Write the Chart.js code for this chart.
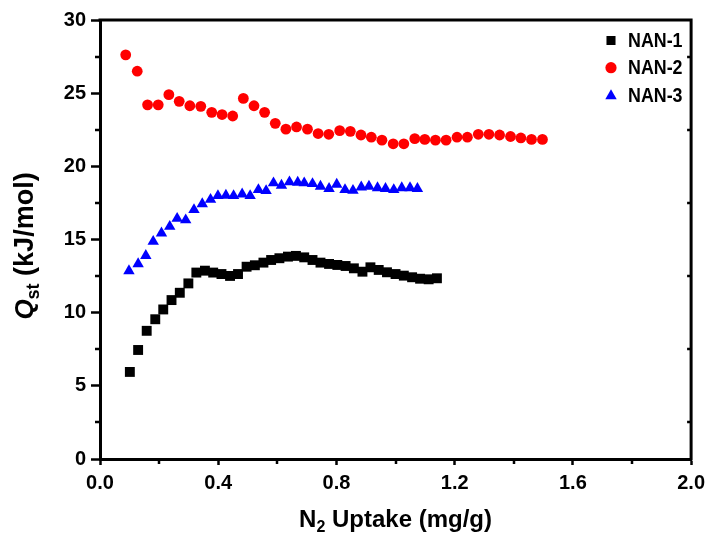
<!DOCTYPE html>
<html>
<head>
<meta charset="utf-8">
<script src="https://cdn.jsdelivr.net/npm/chart.js@4/dist/chart.umd.min.js"></script>
<style>
  html, body { margin: 0; padding: 0; background: #ffffff; }
  #wrap { width: 711px; height: 539px; }
</style>
</head>
<body>
<div id="wrap"><canvas id="c" width="711" height="539"></canvas></div>
<script>
// N2 uptake (mg/g) and isosteric heat Qst (kJ/mol) for each sample
const nan1X = [0.101, 0.129, 0.158, 0.187, 0.214, 0.242, 0.270, 0.299, 0.326, 0.355,
               0.383, 0.411, 0.440, 0.467, 0.496, 0.524, 0.553, 0.579, 0.607, 0.636,
               0.663, 0.691, 0.719, 0.746, 0.775, 0.803, 0.831, 0.859, 0.888, 0.915,
               0.943, 0.971, 1.000, 1.028, 1.056, 1.083, 1.112, 1.140];
const nan1Y = [5.95, 7.45, 8.76, 9.55, 10.22, 10.86, 11.36, 12.00, 12.74, 12.87,
               12.74, 12.64, 12.51, 12.64, 13.14, 13.24, 13.42, 13.60, 13.72, 13.83,
               13.88, 13.78, 13.60, 13.42, 13.33, 13.26, 13.19, 13.03, 12.80, 13.10,
               12.92, 12.76, 12.64, 12.53, 12.42, 12.32, 12.28, 12.35];

const nan2X = [0.087, 0.126, 0.161, 0.197, 0.233, 0.268, 0.304, 0.341, 0.378, 0.413,
               0.449, 0.485, 0.521, 0.557, 0.593, 0.629, 0.665, 0.702, 0.738, 0.774,
               0.811, 0.847, 0.883, 0.918, 0.954, 0.992, 1.028, 1.065, 1.099, 1.135,
               1.171, 1.208, 1.243, 1.280, 1.316, 1.352, 1.389, 1.424, 1.460, 1.497];
const nan2Y = [27.62, 26.50, 24.20, 24.20, 24.90, 24.44, 24.14, 24.10, 23.69, 23.54,
               23.44, 24.64, 24.14, 23.69, 22.94, 22.54, 22.69, 22.54, 22.24, 22.19,
               22.44, 22.39, 22.14, 21.99, 21.79, 21.54, 21.54, 21.89, 21.84, 21.79,
               21.79, 21.99, 21.99, 22.19, 22.19, 22.14, 22.04, 21.94, 21.84, 21.84];

const nan3X = [0.098, 0.129, 0.155, 0.180, 0.208, 0.236, 0.261, 0.290, 0.318, 0.346,
               0.374, 0.399, 0.426, 0.452, 0.481, 0.508, 0.536, 0.562, 0.587, 0.614,
               0.641, 0.669, 0.691, 0.719, 0.746, 0.775, 0.801, 0.829, 0.856, 0.884,
               0.910, 0.939, 0.966, 0.994, 1.021, 1.049, 1.074];
const nan3Y = [12.85, 13.33, 13.90, 14.86, 15.43, 15.89, 16.43, 16.33, 17.03, 17.43,
               17.73, 17.99, 18.01, 17.99, 18.10, 17.99, 18.40, 18.33, 18.86, 18.70,
               18.93, 18.90, 18.86, 18.81, 18.63, 18.47, 18.77, 18.40, 18.35, 18.58,
               18.63, 18.53, 18.47, 18.40, 18.53, 18.53, 18.47];

const seriesNames = ['NAN-1', 'NAN-2', 'NAN-3'];
const xTicks = [0, 0.4, 0.8, 1.2, 1.6, 2.0];
const yTicks = [0, 5, 10, 15, 20, 25, 30];
const xMinorTicks = [0.2, 0.6, 1.0, 1.4, 1.8];
const yMinorTicks = [2.5, 7.5, 12.5, 17.5, 22.5, 27.5];

const toPoints = (xs, ys) => xs.map((x, i) => ({ x: x, y: ys[i] }));

const fam = "'Liberation Sans', Arial, sans-serif";
const tickFont = { family: fam, size: 20, weight: 'bold' };

// Frame, minor ticks, axis titles and legend
const decorations = {
  id: 'decorations',
  afterDraw(chart) {
    const ctx = chart.ctx;
    const a = chart.chartArea;
    const xs = chart.scales.x, ys = chart.scales.y;
    ctx.save();
    ctx.strokeStyle = '#000';
    ctx.lineCap = 'butt';

    // top and right edges of the frame
    ctx.lineWidth = 3;
    ctx.beginPath();
    ctx.moveTo(a.left - 1.5, a.top);
    ctx.lineTo(a.right, a.top);
    ctx.lineTo(a.right, a.bottom + 1.5);
    ctx.stroke();

    // minor ticks
    ctx.lineWidth = 2.5;
    ctx.beginPath();
    yMinorTicks.forEach(v => {
      const py = Math.round(ys.getPixelForValue(v));
      ctx.moveTo(a.left - 5, py); ctx.lineTo(a.left, py);
      ctx.moveTo(a.right - 4, py); ctx.lineTo(a.right, py);
    });
    xMinorTicks.forEach(v => {
      const px = Math.round(xs.getPixelForValue(v));
      ctx.moveTo(px, a.bottom); ctx.lineTo(px, a.bottom + 5);
    });
    ctx.stroke();

    ctx.fillStyle = '#000';
    ctx.textBaseline = 'alphabetic';

    // x-axis title: N2 Uptake (mg/g)
    const xParts = [
      { t: 'N', f: 'bold 24px ' + fam, dy: 0 },
      { t: '2', f: 'bold 16px ' + fam, dy: 5 },
      { t: ' Uptake (mg/g)', f: 'bold 24px ' + fam, dy: 0 }
    ];
    let tw = 0;
    xParts.forEach(p => { ctx.font = p.f; p.w = ctx.measureText(p.t).width; tw += p.w; });
    let cx = (a.left + a.right) / 2 - tw / 2;
    xParts.forEach(p => { ctx.font = p.f; ctx.fillText(p.t, cx, 527 + p.dy); cx += p.w; });

    // y-axis title: Qst (kJ/mol)
    const yParts = [
      { t: 'Q', f: 'italic bold 26px ' + fam, dy: 0 },
      { t: 'st', f: 'bold 18px ' + fam, dy: 6 },
      { t: ' (kJ/mol)', f: 'bold 27px ' + fam, dy: 0 }
    ];
    tw = 0;
    yParts.forEach(p => { ctx.font = p.f; p.w = ctx.measureText(p.t).width; tw += p.w; });
    ctx.save();
    ctx.translate(33, 246);
    ctx.rotate(-Math.PI / 2);
    cx = -tw / 2;
    yParts.forEach(p => { ctx.font = p.f; ctx.fillText(p.t, cx, p.dy); cx += p.w; });
    ctx.restore();

    // legend
    const legendRadius = [6.4, 5.6, 6.6];
    chart.data.datasets.forEach((ds, i) => {
      const ly = 40.5 + i * 27.2;
      ctx.fillStyle = ds.backgroundColor;
      Chart.helpers.drawPoint(ctx, {
        pointStyle: ds.pointStyle, radius: legendRadius[i], rotation: 0, borderWidth: 0
      }, 611, ly + (ds.pointStyle === 'triangle' ? 1 : 0));
      ctx.save();
      ctx.fillStyle = '#000';
      ctx.font = 'bold 21px ' + fam;
      ctx.textBaseline = 'middle';
      ctx.translate(628, ly);
      ctx.scale(0.85, 1);
      ctx.fillText(ds.label, 0, 1);
      ctx.restore();
    });
    ctx.restore();
  }
};

new Chart(document.getElementById('c'), {
  type: 'scatter',
  data: {
    datasets: [
      { label: seriesNames[0], data: toPoints(nan1X, nan1Y), pointStyle: 'rect',
        backgroundColor: '#000000', borderColor: '#000000', borderWidth: 0,
        pointRadius: 7, pointHoverRadius: 7, showLine: false },
      { label: seriesNames[1], data: toPoints(nan2X, nan2Y), pointStyle: 'circle',
        backgroundColor: '#ff0000', borderColor: '#ff0000', borderWidth: 0,
        pointRadius: 5.4, pointHoverRadius: 5.4, showLine: false },
      { label: seriesNames[2], data: toPoints(nan3X, nan3Y), pointStyle: 'triangle',
        backgroundColor: '#0000ff', borderColor: '#0000ff', borderWidth: 0,
        pointRadius: 6.6, pointHoverRadius: 6.6, showLine: false }
    ]
  },
  options: {
    responsive: false,
    devicePixelRatio: 1,
    animation: false,
    events: [],
    layout: { padding: { left: 0, top: 20, right: 17, bottom: 0 } },
    plugins: { legend: { display: false }, tooltip: { enabled: false } },
    scales: {
      x: {
        type: 'linear', min: 0, max: 2,
        afterBuildTicks: s => { s.ticks = xTicks.map(v => ({ value: v })); },
        afterFit: s => { s.height = 80; },
        ticks: { callback: v => Number(v).toFixed(1), font: tickFont, color: '#000',
                 padding: 6, maxRotation: 0, autoSkip: false },
        grid: { drawOnChartArea: false, drawTicks: true, tickLength: 6,
                tickWidth: 2.5, tickColor: '#000' },
        border: { display: true, color: '#000', width: 3 }
      },
      y: {
        type: 'linear', min: 0, max: 30,
        afterBuildTicks: s => { s.ticks = yTicks.map(v => ({ value: v })); },
        afterFit: s => { s.width = 100; },
        ticks: { font: tickFont, color: '#000', padding: 5, autoSkip: false },
        grid: { drawOnChartArea: false, drawTicks: true, tickLength: 9,
                tickWidth: 2.5, tickColor: '#000' },
        border: { display: true, color: '#000', width: 3 }
      }
    }
  },
  plugins: [decorations]
});
</script>
</body>
</html>
